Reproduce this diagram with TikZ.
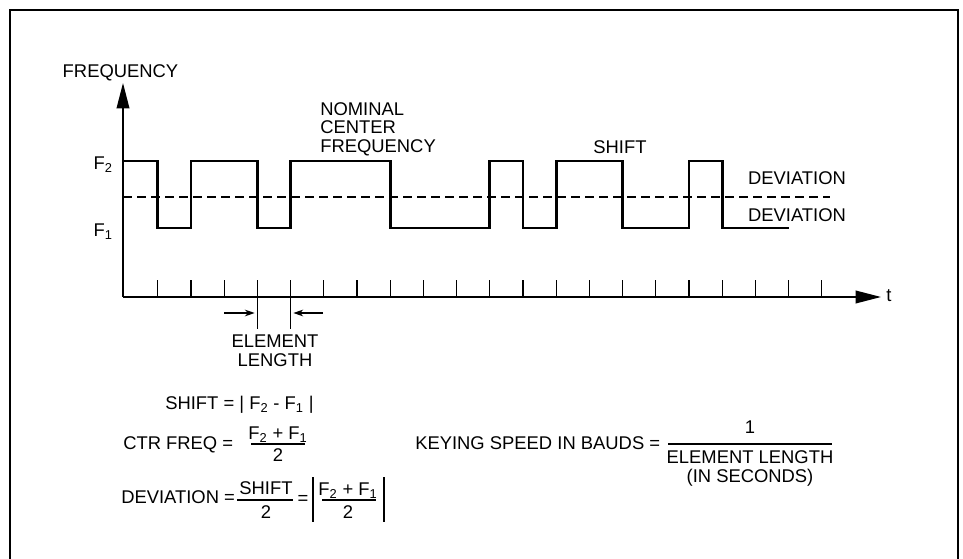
\documentclass[tikz,border=0pt]{standalone}
\usepackage{fontspec}
\setmainfont{Liberation Sans}
\usepackage{tikz}
\usetikzlibrary{arrows.meta, positioning}
\tikzset{
  lbl/.style={font=\fontsize{13.8}{13.9}\selectfont, inner sep=0pt, align=center},
  axisline/.style={line width=1.1pt, -{Triangle[length=19pt,width=9.5pt]}},
  tickmark/.style={line width=1pt},
  signal/.style={line width=2.2pt, line join=miter},
  centerline/.style={line width=0.9pt, dash pattern=on 7pt off 3.5pt},
  dimarrow/.style={line width=0.9pt, -{Stealth[length=7.5pt,width=5pt]}, shorten >=2pt},
  fracbar/.style={line width=0.8pt},
  framebox/.style={line width=1.1pt}
}
\newcommand{\tx}[1]{124.6+#1*33.2}

\begin{document}
\begin{tikzpicture}[x=0.75pt, y=-0.75pt]
\useasboundingbox (0,0) rectangle (963,559);
\draw[framebox] (10,10) rectangle (958,575);

% Axes
\coordinate (origin) at (123,297);
\coordinate (ytip) at (123,83);
\coordinate (xtip) at (881,297);
\draw[axisline] (origin) -- (ytip);
\draw[axisline] (origin) -- (xtip);
\foreach \k in {1,...,21}
  \draw[tickmark] ({\tx{\k}},297) -- ++(0,-17);

% Keyed signal
\def\fhi{161}
\def\flo{228}
\draw[signal] (123,\fhi) -| ({\tx{1}},\flo) -| ({\tx{2}},\fhi) -| ({\tx{4}},\flo)
  -| ({\tx{5}},\fhi) -| ({\tx{8}},\flo) -| ({\tx{11}},\fhi) -| ({\tx{12}},\flo)
  -| ({\tx{13}},\fhi) -| ({\tx{15}},\flo) -| ({\tx{17}},\fhi) -| ({\tx{18}},\flo)
  -- ({\tx{20}},\flo);

% Centre frequency
\coordinate (cleft) at (123,197);
\coordinate (cright) at (830,197);
\draw[centerline] (cleft) -- (cright);

% Labels
\node[lbl, anchor=base] (freq) at (120.5,77.6) {FREQUENCY};
\node[lbl, anchor=base east] (ftwo) at (113,170) {F\textsubscript{2}};
\node[lbl, anchor=base east] (fone) at (113,237) {F\textsubscript{1}};
\node[lbl, anchor=west, align=left] (nominal) at (320,129) {NOMINAL\\CENTER\\FREQUENCY};
\node[lbl, anchor=base] (shift) at (620,153.6) {SHIFT};
\node[lbl, anchor=base] (devup) at (797,184.6) {DEVIATION};
\node[lbl, anchor=base] (devdown) at (797,221.6) {DEVIATION};
\node[lbl, anchor=base west] (tlbl) at (886,302) {t};

% Element length
\coordinate (elA) at (\tx{4},297);
\coordinate (elB) at (\tx{5},297);
\draw[tickmark] (elA) -- ++(0,32);
\draw[tickmark] (elB) -- ++(0,32);
\coordinate (elAin) at (224,313);
\coordinate (elAend) at (\tx{4},313);
\coordinate (elBin) at (323,313);
\coordinate (elBend) at (\tx{5},313);
\draw[dimarrow] (elAin) -- (elAend);
\draw[dimarrow] (elBin) -- (elBend);
\node[lbl] (element) at (275,351) {ELEMENT\\LENGTH};

% Formulas
\node[lbl, anchor=base west] (shifteq) at (165,409.6) {SHIFT = | F\textsubscript{2} - F\textsubscript{1} |};

\node[lbl, anchor=base west] (ctr) at (123,449.6) {CTR FREQ =};
\node[lbl, anchor=base] (ctrnum) at (278,439.6) {F\textsubscript{2} + F\textsubscript{1}};
\node[lbl, anchor=base] (ctrden) at (278,461.6) {2};
\draw[fracbar] (251,444) -- (305,444);

\node[lbl, anchor=base west] (dev) at (121,503.6) {DEVIATION =};
\node[lbl, anchor=base] (devnum) at (266,494.6) {SHIFT};
\node[lbl, anchor=base] (devden) at (266,518.6) {2};
\draw[fracbar] (237,500) -- (293,500);
\node[lbl, anchor=base] (deveq) at (303,504) {=};
\draw[fracbar] (313,477) -- (313,522);
\draw[fracbar] (384,477) -- (384,522);
\node[lbl, anchor=base] (absnum) at (348,495.6) {F\textsubscript{2} + F\textsubscript{1}};
\node[lbl, anchor=base] (absden) at (348,518.6) {2};
\draw[fracbar] (322,500) -- (376,500);

\node[lbl, anchor=base west] (keying) at (415,449.6) {KEYING SPEED IN BAUDS =};
\node[lbl, anchor=base] (keynum) at (750,433.6) {1};
\draw[fracbar] (668,444) -- (832,444);
\node[lbl] (keyden) at (750,468.5) {ELEMENT LENGTH\\(IN SECONDS)};

\end{tikzpicture}
\end{document}
